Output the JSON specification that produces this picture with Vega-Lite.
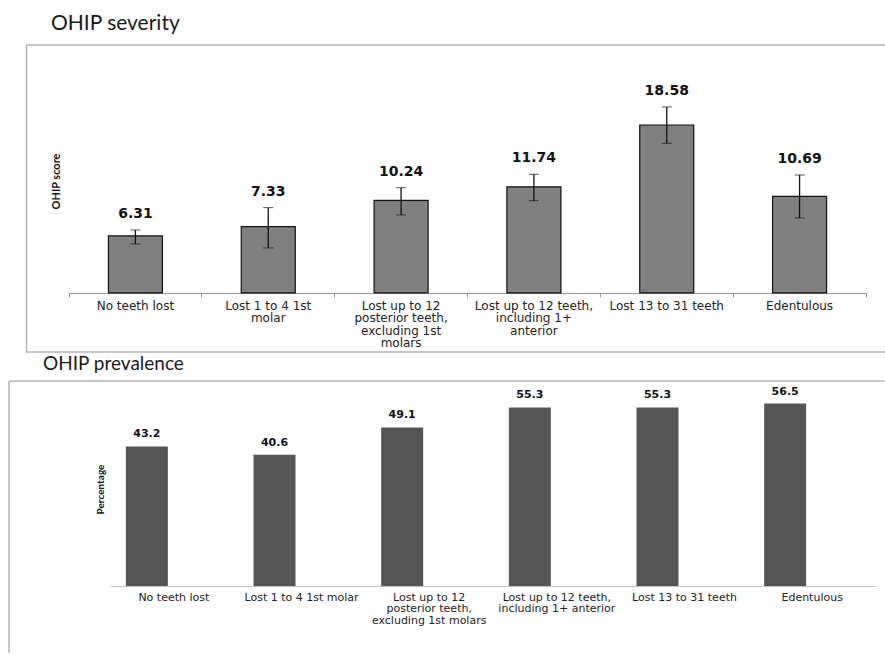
{
  "$schema": "https://vega.github.io/schema/vega-lite/v6.json",
  "padding": {"left": 8, "top": 12, "right": 0, "bottom": 0},
  "spacing": 1,
  "align": "none",
  "columns": 1,
  "concat": [
    {
      "title": {"text": "OHIP severity", "anchor": "start", "dx": 42, "offset": -6, "baseline": "alphabetic", "font": "Lato", "fontSize": 21, "fontWeight": "normal", "color": "#1a1a1a"},
      "width": 876,
      "height": 307,
      "view": {"stroke": "#b4b4b4", "strokeWidth": 1.5, "strokeDash": [0, 17, 859, 307, 859, 324]},
      "data": {
        "values": [
          {"group": "No teeth lost", "score": 6.31, "lower": 5.42, "upper": 6.97},
          {"group": "Lost 1 to 4 1st|molar", "score": 7.33, "lower": 4.98, "upper": 9.44},
          {"group": "Lost up to 12|posterior teeth,|excluding 1st|molars", "score": 10.24, "lower": 8.63, "upper": 11.65},
          {"group": "Lost up to 12 teeth,|including 1+|anterior", "score": 11.74, "lower": 10.21, "upper": 13.13},
          {"group": "Lost 13 to 31 teeth", "score": 18.58, "lower": 16.56, "upper": 20.58},
          {"group": "Edentulous", "score": 10.69, "lower": 8.3, "upper": 13.05}
        ]
      },
      "encoding": {
        "x": {
          "field": "group", "type": "nominal", "sort": null,
          "scale": {"range": [60, 857], "paddingInner": 0, "paddingOuter": 0},
          "axis": {
            "title": null, "offset": -59, "domainColor": "#9a9a9a", "tickColor": "#9a9a9a", "tickSize": 4,
            "bandPosition": 1, "tickExtra": true, "labelAngle": 0, "labelFont": "DejaVu Sans", "labelFontSize": 12,
            "labelColor": "#222222", "labelPadding": 3, "labelLineHeight": 12.5, "labelBaseline": "top",
            "labelExpr": "split(datum.label, '|')"
          }
        }
      },
      "layer": [
        {
          "mark": {"type": "bar", "width": 54, "color": "#808080", "stroke": "#111111", "strokeWidth": 1.2},
          "encoding": {
            "y": {
              "field": "score", "type": "quantitative", "title": "OHIP score",
              "scale": {"domain": [-6.53, 27.43], "nice": false, "zero": false},
              "axis": {
                "offset": -17, "domain": true, "domainColor": "#b4b4b4", "domainWidth": 1.5,
                "titleFont": "Lato", "titleFontSize": 11, "titleFontWeight": "bold", "titleColor": "#111111",
                "titleX": 30, "titleY": 136, "titleAngle": -90, "titleAlign": "center", "titleBaseline": "middle",
                "ticks": false, "labels": false, "grid": false, "minExtent": 0, "maxExtent": 0
              }
            }
          }
        },
        {
          "mark": {"type": "errorbar", "ticks": {"size": 10}, "color": "#111111", "rule": {"strokeWidth": 1.3}},
          "encoding": {
            "y": {"field": "lower", "type": "quantitative", "title": "OHIP score"},
            "y2": {"field": "upper"}
          }
        },
        {
          "mark": {"type": "text", "font": "DejaVu Sans", "fontSize": 14, "fontWeight": "bold", "color": "#111111", "baseline": "middle", "dy": -16},
          "encoding": {
            "y": {"field": "upper", "type": "quantitative", "title": "OHIP score"},
            "text": {"field": "score", "type": "quantitative", "format": ".2f"}
          }
        }
      ]
    },
    {
      "title": {"text": "OHIP prevalence", "anchor": "start", "dx": 34, "offset": -8, "baseline": "alphabetic", "font": "Lato", "fontSize": 19, "fontWeight": "normal", "color": "#1a1a1a"},
      "width": 875,
      "height": 272,
      "view": {"stroke": "#b4b4b4", "strokeWidth": 1.5, "strokeDash": [875, 1147, 272, 0]},
      "data": {
        "values": [
          {"group": "No teeth lost", "pct": 43.2},
          {"group": "Lost 1 to 4  1st molar", "pct": 40.6},
          {"group": "Lost up to 12|posterior teeth,|excluding 1st molars", "pct": 49.1},
          {"group": "Lost up to 12 teeth,|including 1+ anterior", "pct": 55.3},
          {"group": "Lost 13 to 31 teeth", "pct": 55.3},
          {"group": "Edentulous", "pct": 56.5}
        ]
      },
      "encoding": {
        "x": {
          "field": "group", "type": "nominal", "sort": null,
          "scale": {"range": [101, 867], "paddingInner": 0, "paddingOuter": 0},
          "axis": {
            "title": null, "offset": -67, "domainColor": "#c4c4c4", "ticks": false,
            "labelAngle": 0, "labelFont": "DejaVu Sans", "labelFontSize": 11,
            "labelColor": "#222222", "labelPadding": 5, "labelLineHeight": 11.7, "labelBaseline": "top",
            "labelExpr": "split(datum.label, '|')"
          }
        },
        "y": {
          "field": "pct", "type": "quantitative",
          "scale": {"domain": [-20.74, 63.47], "nice": false, "zero": false},
          "axis": {
            "title": "Percentage", "titleFont": "Lato", "titleFontSize": 10, "titleFontWeight": "bold", "titleColor": "#111111",
            "titleX": 91, "titleY": 108, "titleAngle": -90, "titleAlign": "center", "titleBaseline": "middle",
            "domain": false, "ticks": false, "labels": false, "grid": false, "minExtent": 0, "maxExtent": 0
          }
        }
      },
      "layer": [
        {
          "mark": {"type": "bar", "width": 42, "xOffset": -27, "color": "#555555"}
        },
        {
          "mark": {"type": "text", "font": "DejaVu Sans", "fontSize": 11, "fontWeight": "bold", "color": "#111111", "baseline": "middle", "dx": -27, "dy": -12},
          "encoding": {
            "text": {"field": "pct", "type": "quantitative", "format": ".1f"}
          }
        }
      ]
    }
  ],
  "config": {
    "view": {"stroke": null}
  }
}
